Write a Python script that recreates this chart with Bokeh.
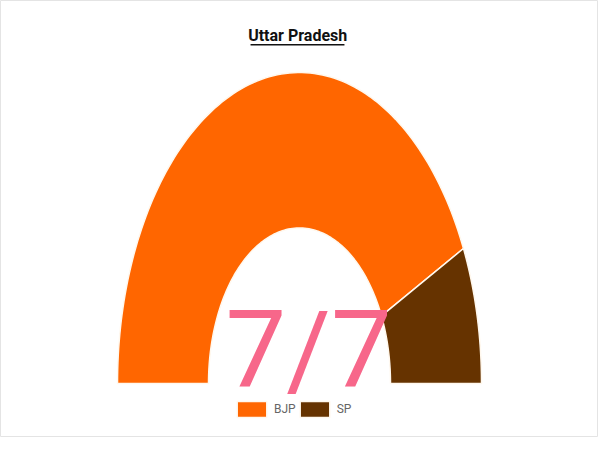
import numpy as np
from bokeh.core.properties import value
from bokeh.embed import file_html
from bokeh.models import ColumnDataSource, Legend, LegendItem, Range1d
from bokeh.plotting import figure
from bokeh.resources import INLINE

# seats won in Uttar Pradesh
parties = ["BJP", "SP"]
seats = [6, 1]
colors = ["#ff6600", "#663300"]
title = "Uttar Pradesh"
centre_text = "7/7"

INNER = 0.5  # inner radius as a fraction of the outer one

p = figure(width=598, height=437, output_backend="svg", toolbar_location=None,
           x_range=Range1d(-1.643, 1.643), y_range=Range1d(-0.174, 1.2315),
           min_border=0, background_fill_color="white",
           outline_line_color="#e4e4e4")
p.axis.visible = False
p.grid.visible = False

# half donut: angles run from pi (left) to 0 (right)
total = sum(seats)
ends = np.pi - np.pi * np.cumsum(seats) / total
starts = np.concatenate([[np.pi], ends[:-1]])
xs, ys = [], []
for a0, a1 in zip(starts, ends):
    t = np.linspace(a0, a1, 120)
    xs.append(np.concatenate([np.cos(t), INNER * np.cos(t[::-1])]).tolist())
    ys.append(np.concatenate([np.sin(t), INNER * np.sin(t[::-1])]).tolist())
src = ColumnDataSource(dict(xs=xs, ys=ys, color=colors, party=parties))
wedges = p.patches("xs", "ys", fill_color="color", line_color="#fff8ee",
                   line_width=1.5, source=src)

# title with underline
p.text(x=[-0.01], y=[1.119], text=[title], text_align="center",
       text_baseline="middle", text_font=value("Roboto"),
       text_font_size="16px", text_font_style="bold", text_color="#111111")
p.segment(x0=[-0.269], y0=[1.089], x1=[0.247], y1=[1.089],
          line_color="#111111", line_width=1.5)

# big tally in the middle
p.text(x=[0.05], y=[0.108], text=[centre_text], text_align="center",
       text_baseline="middle", text_font=value("Roboto"),
       text_font_size="108px", text_color="#f7678a")

items = [LegendItem(label=party, renderers=[wedges], index=i)
         for i, party in enumerate(parties)]
legend = Legend(items=items, orientation="horizontal", location=(233, 18),
                glyph_width=37, glyph_height=20, label_standoff=4, spacing=0,
                padding=0, margin=0, border_line_color=None,
                background_fill_alpha=0, label_text_font_size="12px",
                label_text_color="#666666", label_text_font="Roboto")
p.add_layout(legend)

open("out.html", "w").write(file_html(p, INLINE))
